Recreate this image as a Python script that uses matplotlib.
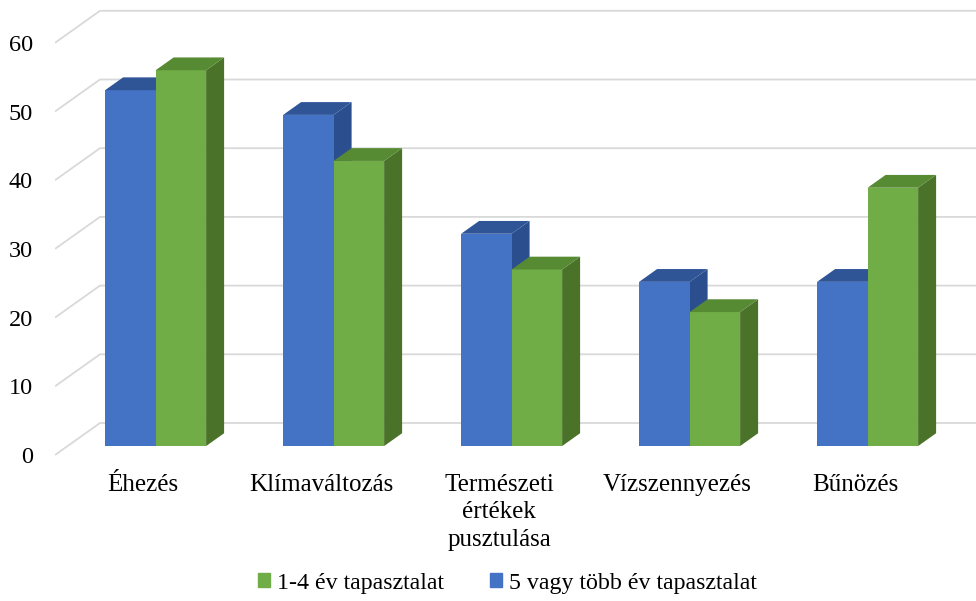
import matplotlib.pyplot as plt
from matplotlib.patches import Polygon, Patch

# data
categories = ['Éhezés', 'Klímaváltozás', 'Természeti\nértékek\npusztulása',
              'Vízszennyezés', 'Bűnözés']
short_exp = [54.7, 41.5, 25.7, 19.5, 37.6]   # 1-4 év tapasztalat
long_exp = [51.8, 48.2, 30.9, 23.9, 23.9]    # 5 vagy több év tapasztalat
yticks = [0, 10, 20, 30, 40, 50, 60]

blue = '#4472c4'
blue_top = '#2f5597'
blue_side = '#2b4f8e'
green = '#70ad47'
green_top = '#568a33'
green_side = '#4a7229'
grid_col = '#d9d9d9'

plt.rcParams['font.family'] = ['Liberation Serif', 'DejaVu Serif']

W, H = 976, 601
fig = plt.figure(figsize=(W / 100, H / 100), dpi=100)

# pixel layout of the front plane
px_per_cat = 178.0
px_per_val = 6.87
x0_px, y0_px = 143.0, 455.0     # category 0 / value 0 on the front plane
left_px = 55.0
ylo, yhi = -0.5, 65.5
xlo = (left_px - x0_px) / px_per_cat
xhi = (W - x0_px) / px_per_cat
ax = fig.add_axes([left_px / W, (H - (y0_px - ylo * px_per_val)) / H,
                   (W - left_px) / W, (yhi - ylo) * px_per_val / H])
ax.set_xlim(xlo, xhi)
ax.set_ylim(ylo, yhi)

# depth of the 3d box, in data units
Dx = 45 / px_per_cat
Dy = 32 / px_per_val
f_front, f_back = 0.28, 0.68
bw = 50.5 / px_per_cat

# back wall gridlines with the diagonal side wall
for v in yticks:
    ax.plot([xlo, xlo + Dx, xhi], [v, v + Dy, v + Dy], color=grid_col,
            lw=1.3, zorder=1, solid_capstyle='butt')


def bar3d(x_left, val, front, top, side):
    bx, by = f_front * Dx, f_front * Dy
    dx, dy = (f_back - f_front) * Dx, (f_back - f_front) * Dy
    xl, xr = x_left + bx, x_left + bx + bw
    yb, yt = by, by + val
    ax.add_patch(Polygon([(xr, yb), (xr + dx, yb + dy), (xr + dx, yt + dy), (xr, yt)],
                         closed=True, fc=side, ec='none', zorder=2))
    ax.add_patch(Polygon([(xl, yb), (xr, yb), (xr, yt), (xl, yt)],
                         closed=True, fc=front, ec='none', zorder=2))
    ax.add_patch(Polygon([(xl, yt), (xr, yt), (xr + dx, yt + dy), (xl + dx, yt + dy)],
                         closed=True, fc=top, ec='none', zorder=2))


for i in range(len(categories)):
    bar3d(i - bw, long_exp[i], blue, blue_top, blue_side)
    bar3d(i, short_exp[i], green, green_top, green_side)

ax.set_xticks(range(len(categories)))
ax.set_xticklabels(categories, fontsize=18, linespacing=1.32)
ax.set_yticks(yticks)
ax.set_yticklabels([str(v) for v in yticks], fontsize=17.5)
ax.tick_params(axis='both', length=0)
ax.tick_params(axis='x', pad=11)
ax.tick_params(axis='y', pad=16)
for s in ax.spines.values():
    s.set_visible(False)

handles = [Patch(color=green, label='1-4 év tapasztalat'),
           Patch(color=blue, label='5 vagy több év tapasztalat')]
fig.legend(handles=handles, loc='center', bbox_to_anchor=(0.52, 1 - 583 / H),
           ncol=2, frameon=False, fontsize=17.2, handlelength=0.5,
           handleheight=0.5, handletextpad=0.3, columnspacing=1.9)

fig.savefig('out.png', dpi=100)
